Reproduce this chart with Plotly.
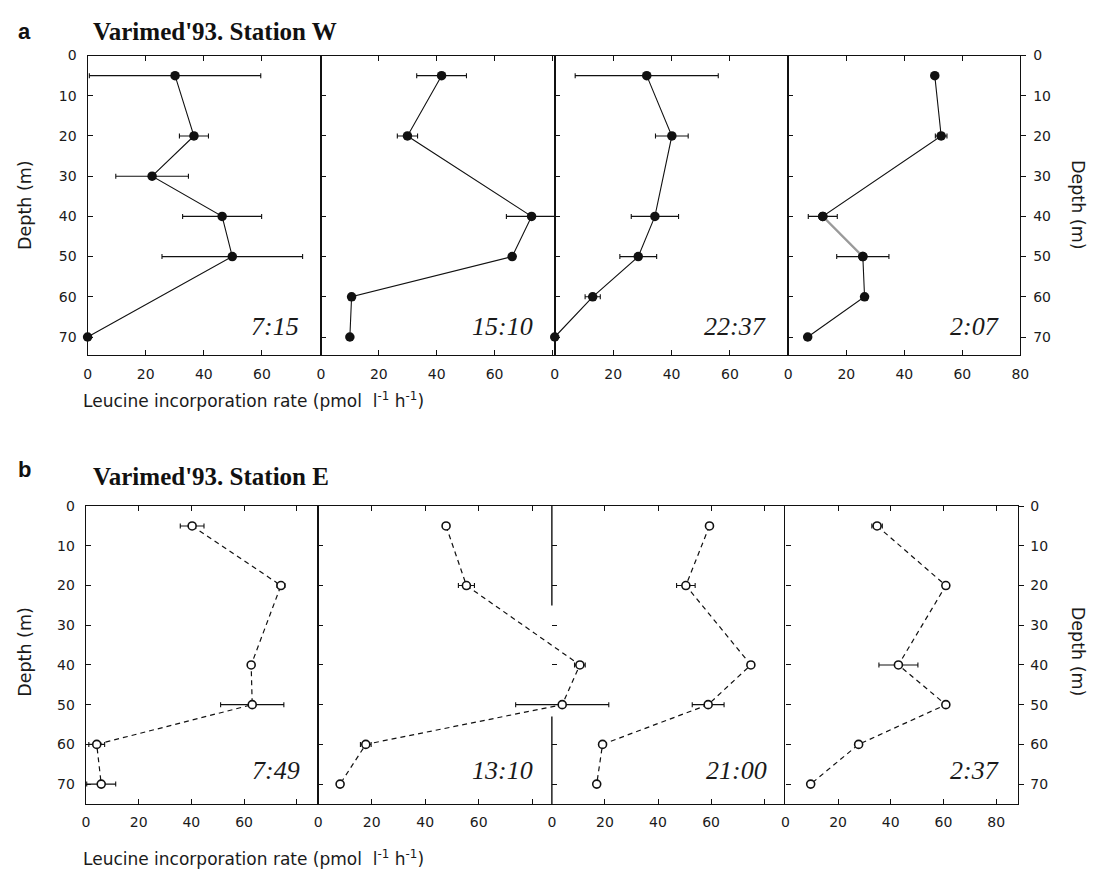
import plotly.graph_objects as go

# ---------------- data ----------------
depth_a1 = [5, 20, 30, 40, 50, 70]
rate_a1 = [30.1, 36.6, 22.2, 46.3, 49.8, 0.0]
err_a1 = [29.5, 5.0, 12.5, 13.6, 24.2, 0.0]

depth_std = [5, 20, 40, 50, 60, 70]
rate_a2 = [41.7, 29.9, 72.8, 66.1, 10.6, 10.0]
err_a2 = [8.6, 3.5, 8.7, 0.0, 0.0, 0.0]
rate_a3 = [31.5, 40.1, 34.3, 28.6, 13.0, 0.0]
err_a3 = [24.5, 5.6, 8.1, 6.3, 2.6, 0.0]
rate_a4 = [50.5, 52.7, 11.9, 25.7, 26.3, 6.7]
err_a4 = [0.0, 2.0, 5.0, 9.0, 0.0, 0.0]

rate_b1 = [40.3, 74.0, 62.7, 63.1, 4.1, 5.8]
err_b1 = [4.5, 1.5, 0.0, 12.0, 3.0, 5.5]
rate_b2 = [47.8, 55.4, 97.8, 91.2, 17.8, 8.2]
err_b2 = [1.0, 3.0, 2.0, 17.4, 2.0, 0.0]
rate_b3 = [59.4, 50.5, 75.0, 58.9, 19.1, 16.9]
err_b3 = [0.0, 3.5, 0.0, 6.0, 0.0, 0.0]
rate_b4 = [34.8, 60.9, 42.9, 60.9, 27.8, 9.6]
err_b4 = [2.0, 0.0, 7.4, 0.0, 0.0, 0.0]

times_a = ["7:15", "15:10", "22:37", "2:07"]
times_b = ["7:49", "13:10", "21:00", "2:37"]

depth_ticks = [0, 10, 20, 30, 40, 50, 60, 70]
rate_ticks = [0, 20, 40, 60, 80]
rate_labels_inner = ["0", "20", "40", "60", ""]
rate_labels_last = ["0", "20", "40", "60", "80"]

title_a = "Varimed'93. Station W"
title_b = "Varimed'93. Station E"
xlab = "Leucine incorporation rate (pmol&#160; l<sup>-1</sup> h<sup>-1</sup>)"
ylab = "Depth (m)"

# ---------------- layout geometry (pixels) ----------------
W, H = 1104, 875
def px(x):
    return x / W
def py(y):
    return 1 - y / H

A_TOP, A_BOT = 48.0, 350.3
B_TOP, B_BOT = 502.7, 803.3
A_DEPTH_MAX = 74.5
B_DEPTH_MAX = 75.0
a_edges = [84.6, 320.7, 557.3, 793.6, 1028.5]
b_edges = [82.9, 317.9, 554.4, 790.7, 1025.6]
a_scale = [2.94, 2.928, 2.955, 2.936]
b_scale = [2.667, 2.708, 2.685, 2.666]

TICKFONT = dict(family="DejaVu Sans", size=14, color="#1a1a1a")
LINEC = "#111111"

fig = go.Figure()
layout = dict(width=W, height=H, autosize=False,
              margin=dict(l=0, r=0, t=0, b=0),
              paper_bgcolor="white", plot_bgcolor="rgba(0,0,0,0)",
              showlegend=False, annotations=[], shapes=[])

panels = []
for i in range(4):
    x0, x1 = a_edges[i], a_edges[i + 1]
    panels.append(dict(dom=(x0, x1), rng=(x1 - x0) / a_scale[i], top=A_TOP, bot=A_BOT,
                       dmax=A_DEPTH_MAX, last=(i == 3), first=(i == 0), stand=6))
for i in range(4):
    x0, x1 = b_edges[i], b_edges[i + 1]
    if i == 1:
        # panel b2 data spill over into the next panel: extend its axis
        x1 = b_edges[4]
    panels.append(dict(dom=(x0, x1), rng=(x1 - x0) / b_scale[i], top=B_TOP, bot=B_BOT,
                       dmax=B_DEPTH_MAX, last=(i == 3), first=(i == 0), stand=5))

for k, p in enumerate(panels, start=1):
    xa = dict(domain=[px(p["dom"][0]), px(p["dom"][1])], range=[0, p["rng"]],
              anchor=f"y{k}", ticks="inside", ticklen=5, tickwidth=1.2, tickcolor=LINEC,
              tickvals=rate_ticks,
              ticktext=rate_labels_last if p["last"] else rate_labels_inner,
              showline=True, linecolor=LINEC, linewidth=1.4, mirror="ticks",
              showgrid=False, zeroline=False, tickfont=TICKFONT,
              ticklabelstandoff=p["stand"], fixedrange=True)
    ya = dict(domain=[py(p["bot"]), py(p["top"])], range=[p["dmax"], 0],
              anchor=f"x{k}", ticks="inside", ticklen=5, tickwidth=1.2, tickcolor=LINEC,
              tickvals=depth_ticks, showticklabels=p["first"],
              showline=(k != 7), linecolor=LINEC, linewidth=1.4, mirror=True,
              showgrid=False, zeroline=False, tickfont=TICKFONT,
              ticklabelstandoff=7, fixedrange=True)
    layout["xaxis" if k == 1 else f"xaxis{k}"] = xa
    layout["yaxis" if k == 1 else f"yaxis{k}"] = ya

# broken divider between panels b2 and b3 (as in the scanned original),
# given as fractions of the panel height (0-25 m and 53-75 m)
for f0, f1 in ((1.0, 1 - 25 / B_DEPTH_MAX), (1 - 53 / B_DEPTH_MAX, 0.0)):
    layout["shapes"].append(dict(type="line", xref="x7 domain", yref="y7 domain",
                                 x0=0, x1=0, y0=f0, y1=f1,
                                 line=dict(color=LINEC, width=1.4), layer="above"))

# right-hand depth axes (outside ticks with labels)
for k, base in ((9, 4), (10, 8)):
    p = panels[base - 1]
    layout[f"yaxis{k}"] = dict(overlaying=f"y{base}", anchor=f"x{base}", side="right",
                               range=[p["dmax"], 0], ticks="outside", ticklen=5,
                               tickwidth=1.2, tickcolor=LINEC, tickvals=depth_ticks,
                               showline=False, showgrid=False, zeroline=False,
                               tickfont=TICKFONT, ticklabelstandoff=4, fixedrange=True)
    fig.add_trace(go.Scatter(x=[None], y=[None], xaxis=f"x{base}", yaxis=f"y{k}",
                             mode="markers", hoverinfo="skip", showlegend=False))

series = [
    (rate_a1, depth_a1, err_a1, "a"), (rate_a2, depth_std, err_a2, "a"),
    (rate_a3, depth_std, err_a3, "a"), (rate_a4, depth_std, err_a4, "a"),
    (rate_b1, depth_std, err_b1, "b"), (rate_b2, depth_std, err_b2, "b"),
    (rate_b3, depth_std, err_b3, "b"), (rate_b4, depth_std, err_b4, "b"),
]
for k, (xs, ys, es, grp) in enumerate(series, start=1):
    if grp == "a":
        line = dict(color=LINEC, width=1.1)
        marker = dict(symbol="circle", size=9.5, color=LINEC)
    else:
        line = dict(color=LINEC, width=1.2, dash="5px,4px")
        marker = dict(symbol="circle", size=8, color="white",
                      line=dict(color=LINEC, width=1.6))
    fig.add_trace(go.Scatter(
        x=xs, y=ys, mode="lines+markers", line=line, marker=marker,
        error_x=dict(type="data", array=es, visible=True, color=LINEC,
                     thickness=1.1, width=2.5),
        xaxis=f"x{k}", yaxis=f"y{k}", hoverinfo="skip", cliponaxis=False))
    if k == 4:
        # the 40-50 m segment is printed in grey in the original
        fig.add_trace(go.Scatter(x=xs[2:4], y=ys[2:4], mode="lines",
                                 line=dict(color="#9a9a9a", width=2.2),
                                 xaxis="x4", yaxis="y4", hoverinfo="skip"))
        fig.add_trace(go.Scatter(x=xs[2:4], y=ys[2:4], mode="markers",
                                 marker=marker, xaxis="x4", yaxis="y4", hoverinfo="skip"))

ann = layout["annotations"]
# time labels
for k, (t, p) in enumerate(zip(times_a + times_b, panels), start=1):
    if k == 6:
        right = b_edges[2] - 17
    else:
        right = p["dom"][1] - (20 if k <= 4 else 16.5)
    yc = 321 if k <= 4 else 770
    ann.append(dict(text=f"<i>{t}</i>", xref="paper", yref="paper", x=px(right), y=py(yc),
                    xanchor="right", yanchor="middle", showarrow=False,
                    font=dict(family="Liberation Serif", size=26, color="#1a1a1a")))

# panel letters and titles
for letter, yc in (("a", 24), ("b", 466)):
    ann.append(dict(text=f"<b>{letter}</b>", xref="paper", yref="paper", x=px(20.5), y=py(yc),
                    xanchor="center", yanchor="middle", showarrow=False,
                    font=dict(family="Liberation Sans", size=22, color="#111")))
for title, yc in ((title_a, 23.5), (title_b, 473)):
    ann.append(dict(text=f"<b>{title}</b>", xref="paper", yref="paper", x=px(88), y=py(yc),
                    xanchor="left", yanchor="middle", showarrow=False,
                    font=dict(family="Liberation Serif", size=25, color="#111")))

# axis titles
for yc_x, yc_y in ((396, 199), (858, 650)):
    ann.append(dict(text=xlab, xref="paper", yref="paper", x=px(78), y=py(yc_x),
                    xanchor="left", yanchor="middle", showarrow=False,
                    font=dict(family="DejaVu Sans", size=17, color="#1a1a1a")))
    ann.append(dict(text=ylab, xref="paper", yref="paper", x=px(21), y=py(yc_y),
                    xanchor="center", yanchor="middle", showarrow=False, textangle=-90,
                    font=dict(family="DejaVu Sans", size=17.5, color="#1a1a1a")))
    ann.append(dict(text=ylab, xref="paper", yref="paper", x=px(1087), y=py(yc_y),
                    xanchor="center", yanchor="middle", showarrow=False, textangle=90,
                    font=dict(family="DejaVu Sans", size=17.5, color="#1a1a1a")))

fig.update_layout(**layout)
fig.write_html("out.html", config={"displayModeBar": False},
               post_script="document.body.style.margin='0px';")
